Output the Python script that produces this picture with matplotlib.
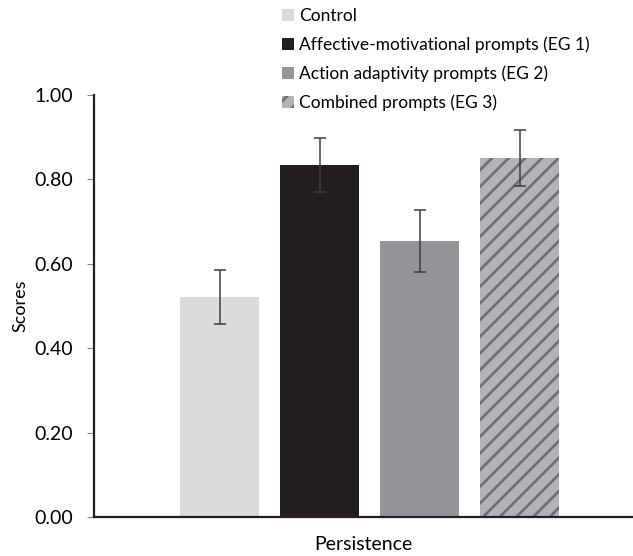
import matplotlib.pyplot as plt
import numpy as np

plt.rcParams['font.family'] = ['Lato', 'DejaVu Sans']
plt.rcParams['hatch.linewidth'] = 1.9

groups = ['Control', 'Affective-motivational prompts (EG 1)',
          'Action adaptivity prompts (EG 2)', 'Combined prompts (EG 3)']
scores = [0.521, 0.834, 0.654, 0.851]
errors = [0.064, 0.064, 0.074, 0.066]
category = 'Persistence'

colors = ['#dadbdd', '#231f20', '#939598', '#b1b3b6']
hatches = [None, None, None, '//']

fig = plt.figure(figsize=(6.33, 5.56), dpi=100)
ax = fig.add_axes([94 / 633, 1 - 517 / 556, 539 / 633, (517 - 95) / 556])

x = np.arange(len(groups))
for i in range(len(groups)):
    ax.bar(x[i], scores[i], width=0.79, color=colors[i], hatch=hatches[i],
           edgecolor='#6d6e71' if hatches[i] else colors[i], linewidth=0,
           label=groups[i], zorder=2)
ax.errorbar(x, scores, yerr=errors, fmt='none', ecolor='#3c3c3c',
            elinewidth=1.1, capsize=4, capthick=1.1, zorder=3)

ax.set_xlim(-1.255, 4.135)
ax.set_ylim(0, 1.0)
ax.set_yticks(np.arange(0, 1.01, 0.2))
ax.set_yticklabels(['%.2f' % v for v in np.arange(0, 1.01, 0.2)], fontsize=14)
ax.set_xticks([])
ax.set_xlabel(category, fontsize=14, labelpad=14)
ax.set_ylabel('Scores', fontsize=13, labelpad=4)

for s in ['top', 'right']:
    ax.spines[s].set_visible(False)
for s in ['left', 'bottom']:
    ax.spines[s].set_linewidth(1.6)
    ax.spines[s].set_color('#231f20')
ax.tick_params(axis='y', length=5, width=0.8, color='#888888', pad=10)

leg = fig.legend(loc='upper left', bbox_to_anchor=(275 / 633, 1 - 1 / 556),
                 frameon=False, fontsize=12.5, handlelength=0.7,
                 handleheight=0.7, handletextpad=0.3, labelspacing=0.72,
                 borderaxespad=0)

fig.savefig('out.png', dpi=100)
